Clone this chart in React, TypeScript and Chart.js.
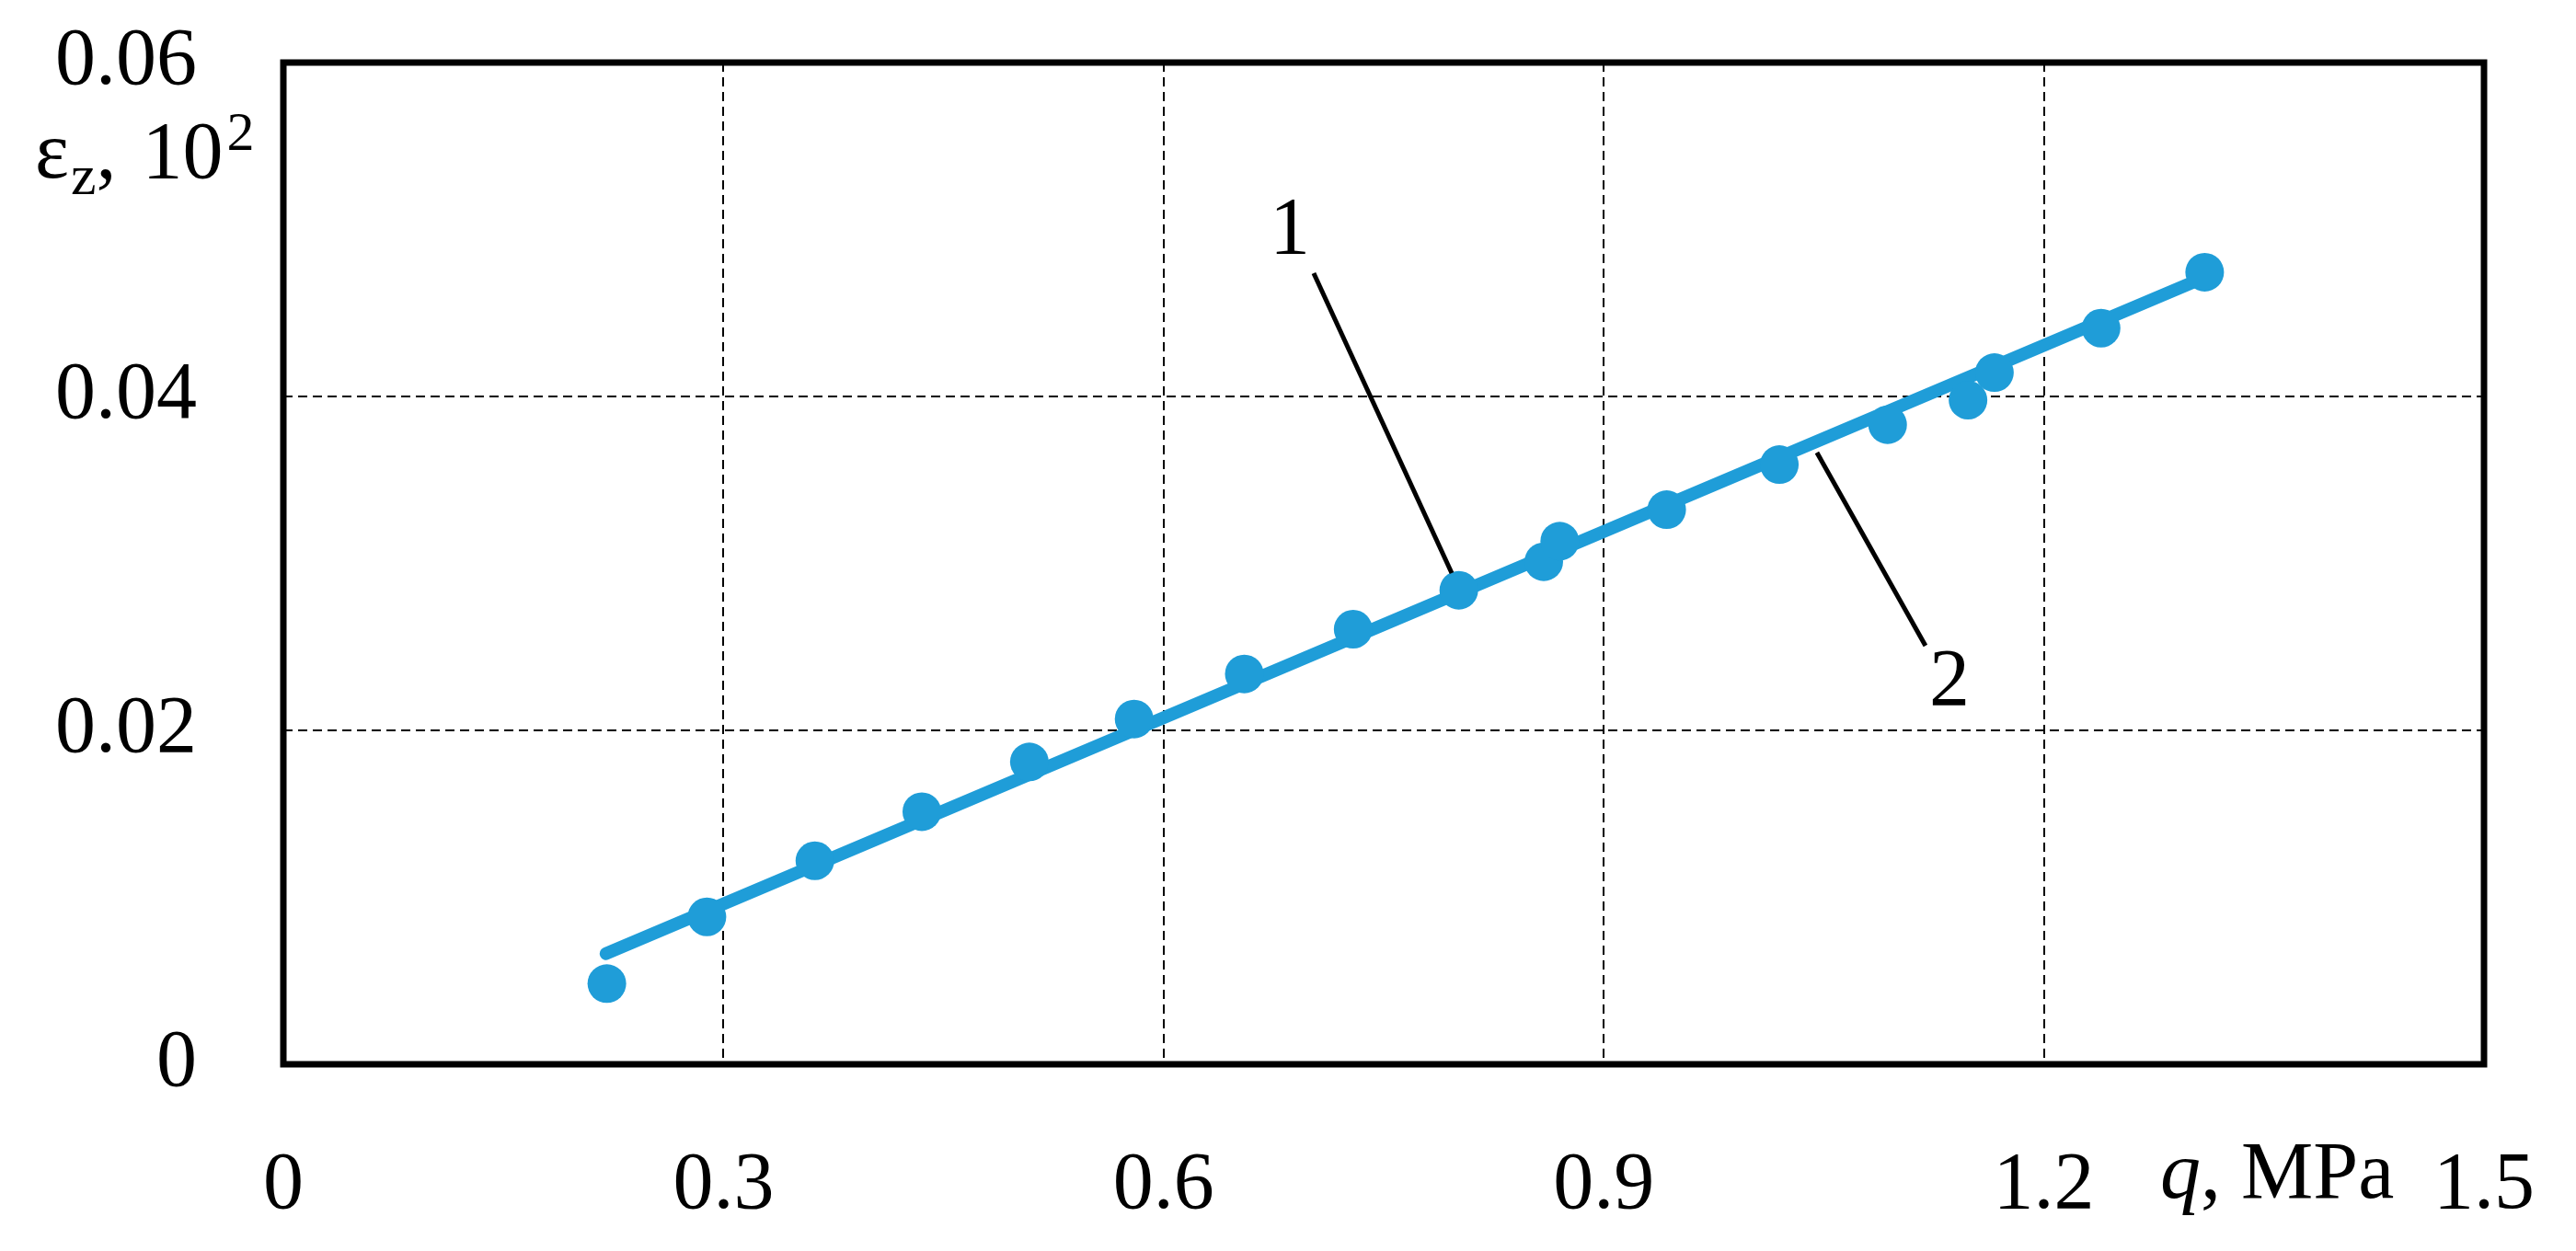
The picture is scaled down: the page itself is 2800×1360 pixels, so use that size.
import React, { useEffect, useRef } from "react";
import { Chart, registerables } from "chart.js";

Chart.register(...registerables);

// ---- data ----
const qValues = [0.2205, 0.2887, 0.3623, 0.4352, 0.5085, 0.5799, 0.655, 0.7292, 0.8012, 0.8591, 0.87, 0.9429, 1.0197, 1.0935, 1.1483, 1.1663, 1.239, 1.3096];
const strainValues = [0.00483, 0.00883, 0.01219, 0.01513, 0.01811, 0.02068, 0.02338, 0.02606, 0.02839, 0.0301, 0.03133, 0.03322, 0.03592, 0.03831, 0.03978, 0.04143, 0.04409, 0.04744];
const fitQ = [0.22, 1.302];
const fitStrain = [0.00663, 0.04685];

const xTickValues = [0, 0.3, 0.6, 0.9, 1.2, 1.5];
const xTickLabels = ["0", "0.3", "0.6", "0.9", "1.2", "1.5"];
const yTickValues = [0, 0.02, 0.04, 0.06];
const yTickLabels = ["0", "0.02", "0.04", "0.06"];

// curve callouts (data coordinates)
const calloutText = ["1", "2"];
const calloutLabelQ = [0.686, 1.1356];
const calloutLabelE = [0.04986, 0.02281];
const leaderFromQ = [0.7023, 1.0453];
const leaderFromE = [0.04738, 0.03664];
const leaderToQ = [0.7964, 1.1193];
const leaderToE = [0.02942, 0.02507];

const BLUE = "#1f9dd8";
const FONT = "'Liberation Serif', 'Times New Roman', serif";

const framePlugin = {
  id: "frame",
  afterDraw(chart: any) {
    const { ctx, chartArea } = chart;
    const { left, top, right, bottom } = chartArea;
    ctx.save();
    // box
    ctx.strokeStyle = "#000";
    ctx.lineWidth = 7;
    ctx.lineJoin = "miter";
    ctx.strokeRect(left, top, right - left, bottom - top);

    // y title: ε_z, 10²
    ctx.fillStyle = "#000";
    ctx.textBaseline = "alphabetic";
    ctx.textAlign = "left";
    const yb = top + 125;
    let x = left - 270;
    ctx.font = `88px ${FONT}`;
    ctx.fillText("ε", x, yb);
    x += ctx.measureText("ε").width;
    ctx.font = `62px ${FONT}`;
    ctx.fillText("z", x + 2, yb + 18);
    x += ctx.measureText("z").width + 2;
    ctx.font = `88px ${FONT}`;
    ctx.fillText(",", x, yb);
    x += ctx.measureText(", ").width + 6;
    ctx.fillText("10", x, yb);
    x += ctx.measureText("10").width + 4;
    ctx.font = `60px ${FONT}`;
    ctx.fillText("2", x, yb - 30);

    // x title: q, MPa
    const xb = bottom + 145;
    let xx = right - 352;
    ctx.font = `italic 88px ${FONT}`;
    ctx.fillText("q", xx, xb);
    xx += ctx.measureText("q").width;
    ctx.font = `88px ${FONT}`;
    ctx.fillText(", MPa", xx, xb);
    ctx.restore();
  },
  afterDatasetsDraw(chart: any) {
    const { ctx, scales } = chart;
    const xs = scales.x;
    const ys = scales.y;
    ctx.save();
    ctx.strokeStyle = "#000";
    ctx.lineWidth = 5;
    ctx.lineCap = "butt";
    for (let i = 0; i < calloutText.length; i++) {
      ctx.beginPath();
      ctx.moveTo(xs.getPixelForValue(leaderFromQ[i]), ys.getPixelForValue(leaderFromE[i]));
      ctx.lineTo(xs.getPixelForValue(leaderToQ[i]), ys.getPixelForValue(leaderToE[i]));
      ctx.stroke();
      ctx.fillStyle = "#000";
      ctx.font = `88px ${FONT}`;
      ctx.textAlign = "center";
      ctx.textBaseline = "middle";
      ctx.fillText(calloutText[i], xs.getPixelForValue(calloutLabelQ[i]), ys.getPixelForValue(calloutLabelE[i]));
    }
    ctx.restore();
  },
};

export default function App() {
  const canvasRef = useRef<HTMLCanvasElement | null>(null);

  useEffect(() => {
    if (!canvasRef.current) return;
    const chart = new Chart(canvasRef.current, {
      type: "scatter",
      data: {
        datasets: [
          {
            type: "line",
            label: "fit",
            data: fitQ.map((q, i) => ({ x: q, y: fitStrain[i] })),
            borderColor: BLUE,
            borderWidth: 14,
            borderCapStyle: "round",
            pointRadius: 0,
            fill: false,
            order: 2,
          } as any,
          {
            type: "scatter",
            label: "exp",
            data: qValues.map((q, i) => ({ x: q, y: strainValues[i] })),
            backgroundColor: BLUE,
            borderColor: BLUE,
            borderWidth: 0,
            pointRadius: 21,
            order: 1,
          },
        ],
      },
      options: {
        animation: false,
        responsive: true,
        maintainAspectRatio: false,
        layout: { padding: { top: 68, right: 100, left: 0, bottom: 0 } },
        plugins: { legend: { display: false }, tooltip: { enabled: false } },
        scales: {
          x: {
            type: "linear",
            min: 0,
            max: 1.5,
            afterBuildTicks: (s: any) => {
              s.ticks = xTickValues.map((v) => ({ value: v }));
            },
            afterFit: (s: any) => {
              s.height = 203;
              s.paddingLeft = 0;
              s.paddingRight = 0;
            },
            grid: { color: "#000", lineWidth: 2, drawTicks: false },
            border: { display: false, dash: [10, 6] },
            ticks: {
              color: "#000",
              padding: 80,
              maxRotation: 0,
              autoSkip: false,
              font: { family: FONT, size: 88 },
              callback: (v: any) => {
                const i = xTickValues.findIndex((t) => Math.abs(t - v) < 1e-9);
                return i >= 0 ? xTickLabels[i] : "";
              },
            },
          },
          y: {
            type: "linear",
            min: 0,
            max: 0.06,
            afterBuildTicks: (s: any) => {
              s.ticks = yTickValues.map((v) => ({ value: v }));
            },
            afterFit: (s: any) => {
              s.width = 308;
              s.paddingTop = 0;
              s.paddingBottom = 0;
            },
            grid: { color: "#000", lineWidth: 2, drawTicks: false },
            border: { display: false, dash: [10, 6] },
            ticks: {
              color: "#000",
              padding: 94,
              autoSkip: false,
              font: { family: FONT, size: 88 },
              callback: (v: any) => {
                const i = yTickValues.findIndex((t) => Math.abs(t - v) < 1e-9);
                return i >= 0 ? yTickLabels[i] : "";
              },
            },
          },
        },
      },
      plugins: [framePlugin],
    });
    return () => chart.destroy();
  }, []);

  return (
    <div style={{ position: "absolute", left: 0, top: 0, width: 2800, height: 1360, background: "#fff" }}>
      <canvas ref={canvasRef} />
    </div>
  );
}
